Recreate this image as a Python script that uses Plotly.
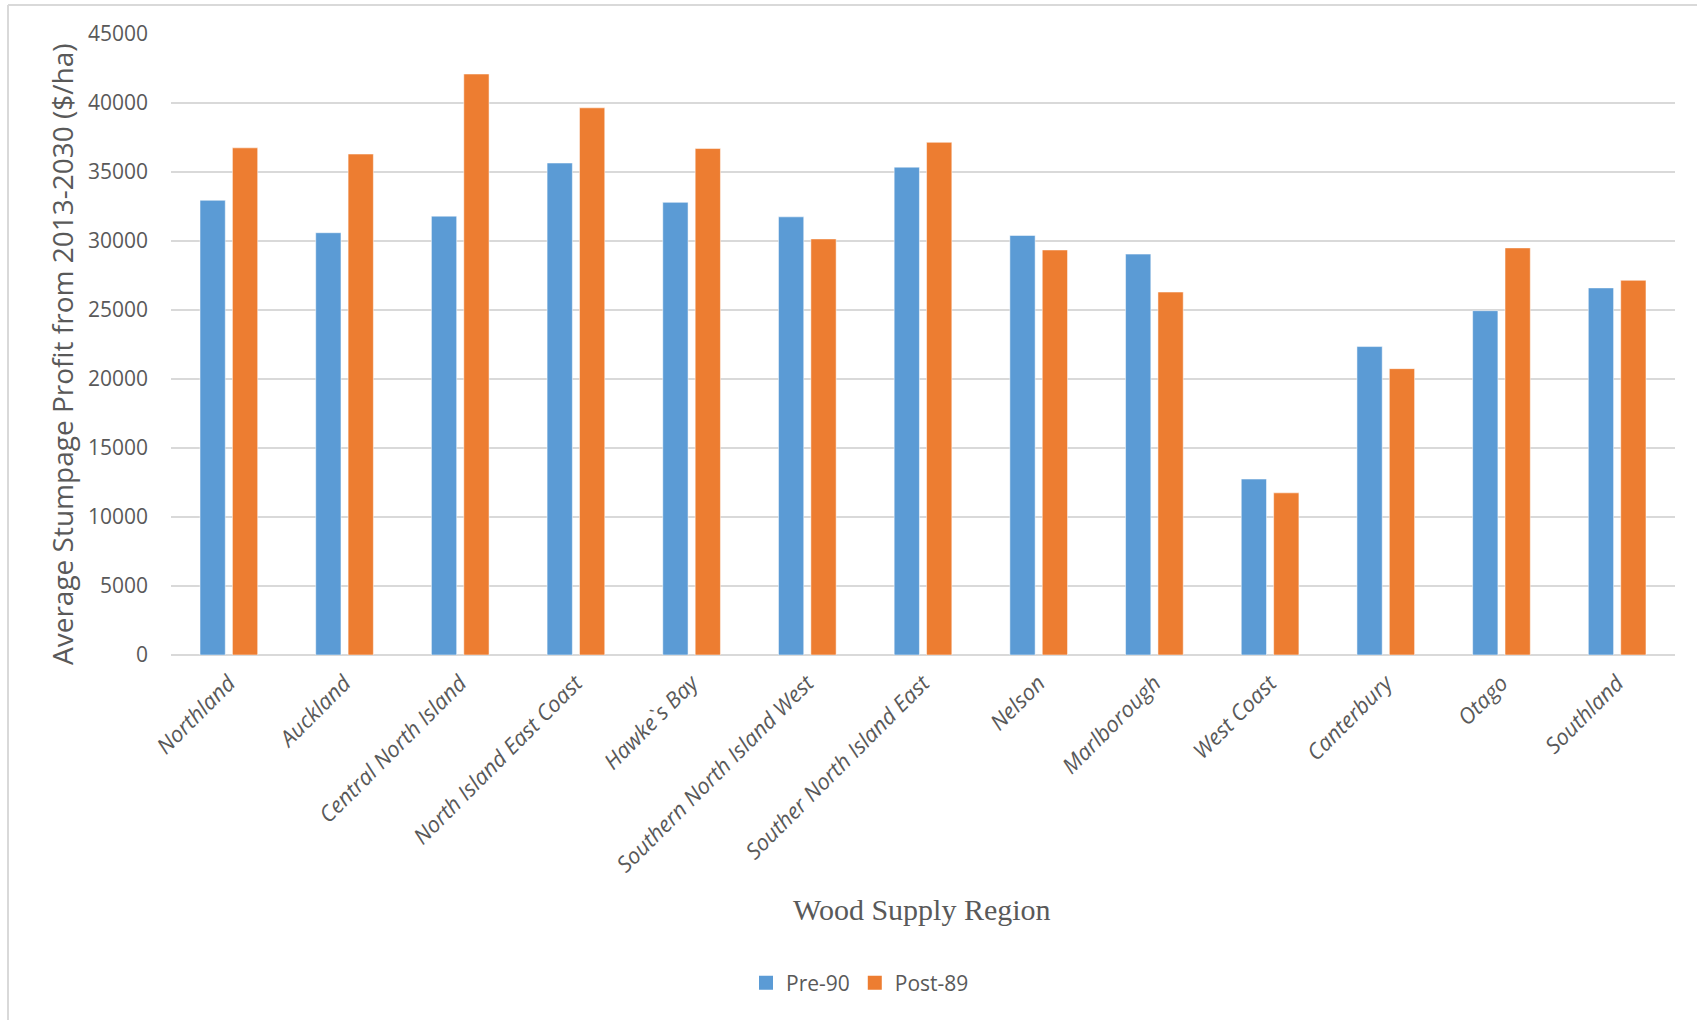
import plotly.graph_objects as go

# Wood supply regions and average stumpage profit (2013-2030, $/ha)
regions = [
    "Northland", "Auckland", "Central North Island", "North Island East Coast",
    "Hawke`s Bay", "Southern North Island West", "Souther North Island East",
    "Nelson", "Marlborough", "West Coast", "Canterbury", "Otago", "Southland",
]
pre90 = [32950, 30600, 31800, 35650, 32800, 31750, 35350,
         30400, 29050, 12750, 22350, 24950, 26600]
post89 = [36750, 36300, 42100, 39650, 36700, 30150, 37150,
          29350, 26300, 11750, 20750, 29500, 27150]
y_ticks = [0, 5000, 10000, 15000, 20000, 25000, 30000, 35000, 40000, 45000]

series = [("Pre-90", pre90, "#5B9BD5"), ("Post-89", post89, "#ED7D31")]

TEXT = "#595959"
GRID = "#D9D9D9"
SANS = "Open Sans"

W, H = 1697, 1020
L, R, T, B = 171, 22, 34, 365
pw, ph = W - L - R, H - T - B


def px_x(x):
    return (x - L) / pw


def px_y(y):
    return (H - B - y) / ph


fig = go.Figure()
for name, vals, color in series:
    fig.add_bar(name=name, x=regions, y=vals, marker_color=color,
                marker_line=dict(color="rgba(255,255,255,0.5)", width=1),
                showlegend=False, legendgroup=name)
# legend entries with larger square swatches
for name, vals, color in series:
    fig.add_scatter(name=name, x=[None], y=[None], mode="markers",
                    marker=dict(symbol="square", size=14, color=color),
                    legendgroup=name, showlegend=True)

fig.update_layout(
    width=W, height=H,
    margin=dict(l=L, r=R, t=T, b=B),
    paper_bgcolor="white", plot_bgcolor="white",
    barmode="group", bargap=0.44, bargroupgap=0.22,
    font=dict(family=SANS, color=TEXT),
    legend=dict(orientation="h", x=px_x(860), xanchor="center",
                y=px_y(983), yanchor="middle",
                font=dict(family=SANS, size=21, color=TEXT),
                bgcolor="rgba(0,0,0,0)", itemwidth=30),
    xaxis=dict(
        tickangle=-45, showline=False, ticks="", showgrid=False,
        tickfont=dict(family=SANS, size=22, color=TEXT, style="italic"),
        ticklabelstandoff=10,
    ),
    yaxis=dict(
        range=[0, 45000], tickvals=y_ticks, tickformat="d",
        showgrid=True, gridcolor=GRID, gridwidth=1.5,
        zeroline=True, zerolinecolor=GRID, zerolinewidth=1.5,
        showline=False, ticks="",
        tickfont=dict(family=SANS, size=21, color=TEXT),
        ticklabelstandoff=22,
    ),
    annotations=[
        dict(text="Average Stumpage Profit from 2013-2030 ($/ha)",
             xref="paper", yref="paper", x=px_x(62), y=px_y(354),
             xanchor="center", yanchor="middle", textangle=-90,
             showarrow=False, font=dict(family=SANS, size=28, color=TEXT)),
        dict(text="Wood Supply Region",
             xref="paper", yref="paper", x=px_x(922), y=px_y(909),
             xanchor="center", yanchor="middle", showarrow=False,
             font=dict(family="Liberation Serif", size=30, color=TEXT)),
    ],
    shapes=[
        dict(type="line", xref="paper", yref="paper",
             x0=px_x(8), x1=px_x(8), y0=px_y(5), y1=px_y(H + 5),
             line=dict(color=GRID, width=2)),
        dict(type="line", xref="paper", yref="paper",
             x0=px_x(8), x1=px_x(W + 5), y0=px_y(5), y1=px_y(5),
             line=dict(color=GRID, width=2)),
    ],
)

fig.write_html("out.html")
